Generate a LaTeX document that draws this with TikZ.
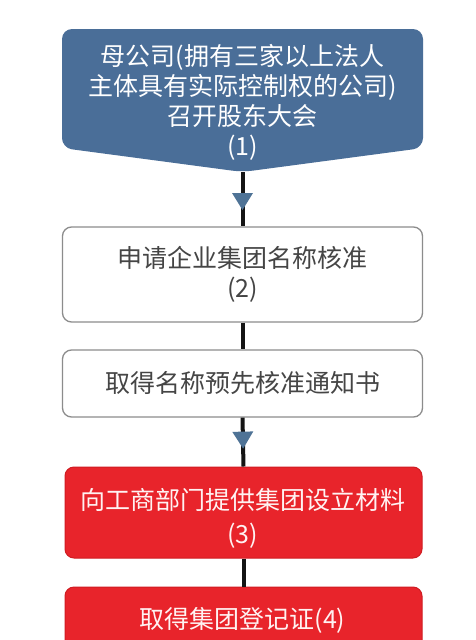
\documentclass[tikz,border=0pt]{standalone}
\usepackage{fontspec}
\setmainfont{Noto Sans CJK SC}
\usetikzlibrary{arrows.meta,decorations.markings}
\definecolor{topblue}{HTML}{4A6E98}
\definecolor{arrblue}{HTML}{4F7396}
\definecolor{boxred}{HTML}{E8242B}
\definecolor{redborder}{HTML}{D01C22}
\definecolor{txtgrey}{HTML}{454545}
\definecolor{bordergrey}{HTML}{8C8C8C}
\definecolor{redtxt}{HTML}{FFF2F2}
\begin{document}
\begin{tikzpicture}[x=1pt,y=-1pt,
  txt/.style={font=\fontsize{25}{30}\selectfont, align=center, inner sep=0pt},
  whitebox/.style={draw=bordergrey, line width=1.3pt, fill=white, rounded corners=9pt,
    minimum width=360pt, inner sep=0pt, txt, text=txtgrey},
  redbox/.style={draw=redborder, line width=1pt, fill=boxred, rounded corners=9pt,
    minimum width=357pt, inner sep=0pt},
  redtext/.style={txt, text=redtxt},
  conn/.style={line width=4pt, draw=black!92},
  connarrow/.style={conn, postaction={decorate},
    decoration={markings, mark=at position #1 with
      {\arrow[arrblue]{Triangle[width=21pt,length=17pt,line width=0pt]}}}},
]
\useasboundingbox (0,0) rectangle (475,640);
\clip (0,0) rectangle (475,640);
\fill[white] (0,0) rectangle (475,640);

% top pentagon
\fill[topblue, rounded corners=10pt] (62,90) -- (62,29) -- (423,29) -- (423,148) -- (242.5,172) -- (62,148) -- cycle;
\coordinate (tip) at (242.5,172);
\node[txt, text=white, font=\fontsize{25}{30}\selectfont] (n1) at (242.5,102)
  {母公司(拥有三家以上法人\\主体具有实际控制权的公司)\\召开股东大会\\(1)};

\node[whitebox, minimum height=95pt] (n2) at (242.5,274.5) {申请企业集团名称核准\\(2)};
\node[whitebox, minimum height=67pt] (n3) at (242.5,383.5) {取得名称预先核准通知书};

\node[redbox, minimum height=91pt] (n4) at (243.5,512.5) {};
\node[redtext, font=\fontsize{25}{34}\selectfont] (t4) at (242.5,518) {向工商部门提供集团设立材料\\(3)};

\node[redbox, minimum height=100pt] (n5) at (243.5,637) {};
\node[redtext] (t5) at (242.5,620) {取得集团登记证(4)};

\draw[connarrow=38pt] (tip) -- (n2.north);
\draw[conn] (n2.south) -- (n3.north);
\draw[connarrow=31pt] (n3.south) -- (n4.north);
\draw[conn] (n4.south) -- (n5.north);
\end{tikzpicture}
\end{document}
